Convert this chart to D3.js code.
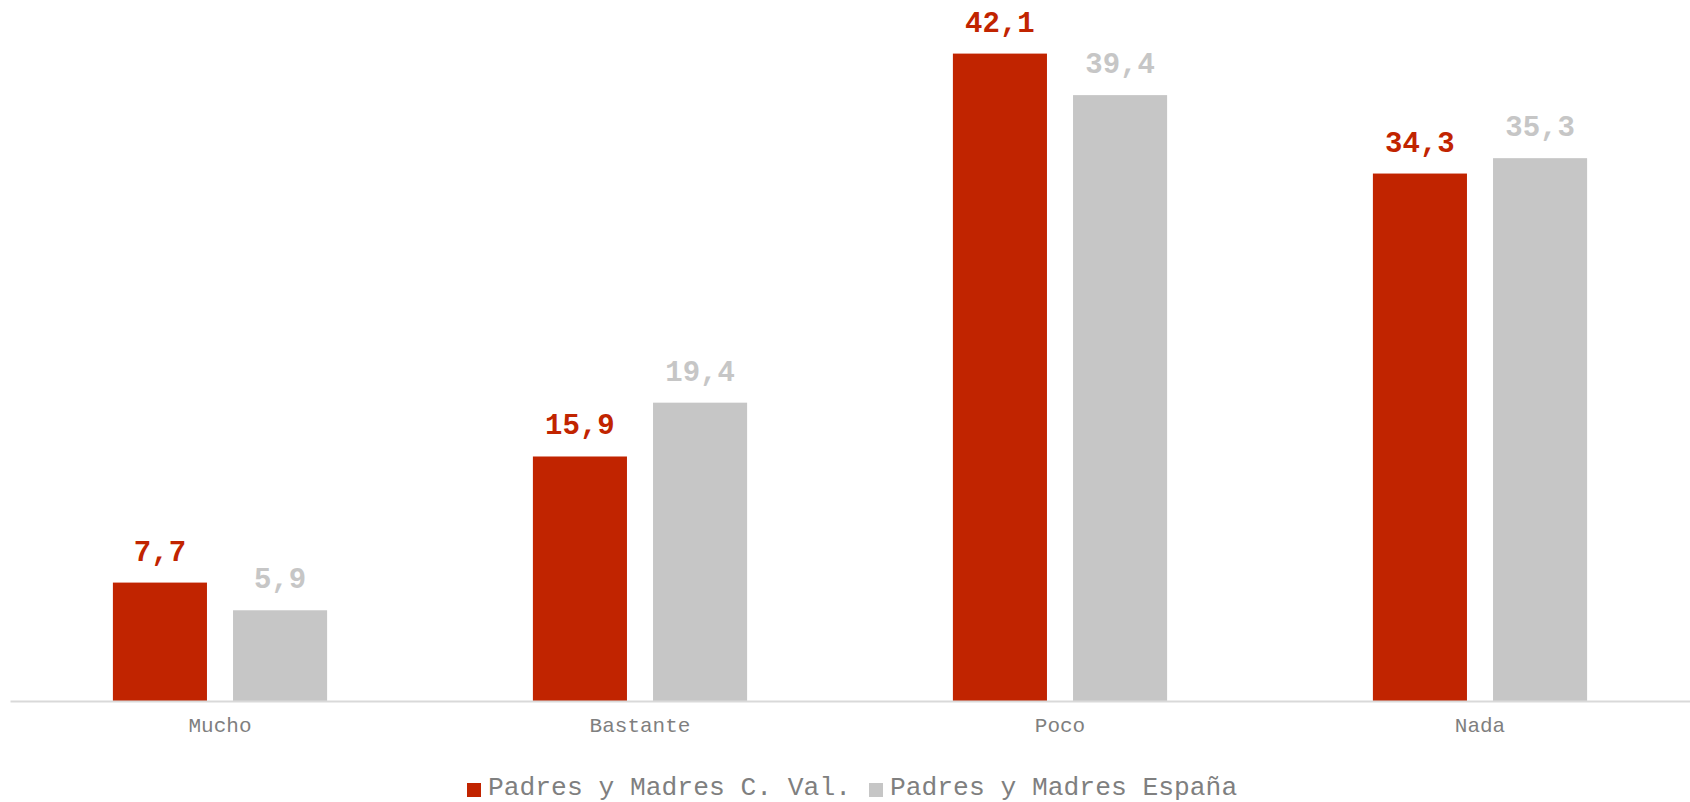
<!DOCTYPE html>
<html>
<head>
<meta charset="utf-8">
<script src="https://cdn.jsdelivr.net/npm/d3@7"></script>
<style>
  body { margin: 0; background: #fff; }
  svg { display: block; }
</style>
</head>
<body>
<div id="chart"></div>
<script>
var width = 1690;
var height = 802;

var categories = ["Mucho", "Bastante", "Poco", "Nada"];
var seriesNames = ["Padres y Madres C. Val.", "Padres y Madres España"];
var valenciaValues = [7.7, 15.9, 42.1, 34.3];
var espanaValues = [5.9, 19.4, 39.4, 35.3];
var colors = ["#c12400", "#c6c6c6"];

var fontFamily = "'Liberation Mono', 'Courier New', monospace";

var data = categories.map(function(c, i) {
    return { category: c, values: [valenciaValues[i], espanaValues[i]] };
});

var svg = d3.select("#chart")
    .append("svg")
    .attr("width", width)
    .attr("height", height);

var x0 = d3.scaleBand()
    .domain(categories)
    .range([10, 1690])
    .paddingInner(0.49)
    .paddingOuter(0.245);

var x1 = d3.scaleBand()
    .domain([0, 1])
    .range([0, x0.bandwidth()])
    .paddingInner(0.217);

var y = d3.scaleLinear()
    .domain([0, 45])
    .range([701, 9]);

var groups = svg.selectAll(".group")
    .data(data)
    .enter().append("g")
    .attr("class", "group")
    .attr("transform", function(d) { return "translate(" + x0(d.category) + ",0)"; });

groups.selectAll("rect")
    .data(function(d) { return d.values; })
    .enter().append("rect")
    .attr("x", function(d, i) { return x1(i); })
    .attr("y", function(d) { return y(d); })
    .attr("width", x1.bandwidth())
    .attr("height", function(d) { return y(0) - y(d); })
    .attr("fill", function(d, i) { return colors[i]; });

groups.selectAll(".value")
    .data(function(d) { return d.values; })
    .enter().append("text")
    .attr("class", "value")
    .attr("x", function(d, i) { return x1(i) + x1.bandwidth() / 2; })
    .attr("y", function(d) { return y(d) - 22; })
    .attr("text-anchor", "middle")
    .attr("font-family", fontFamily)
    .attr("font-weight", "bold")
    .attr("font-size", "29px")
    .attr("fill", function(d, i) { return colors[i]; })
    .text(function(d) { return d.toFixed(1).replace(".", ","); });

var xAxis = d3.axisBottom(x0).tickSize(0).tickPadding(16);

var axisG = svg.append("g")
    .attr("transform", "translate(0," + y(0) + ")")
    .call(xAxis);

axisG.select(".domain")
    .attr("stroke", "#d9d9d9")
    .attr("stroke-width", 2);

axisG.selectAll(".tick text")
    .attr("font-family", fontFamily)
    .attr("font-size", "21px")
    .attr("fill", "#7f7f7f");

// legend
var legendX = [467, 869];
var legend = svg.selectAll(".legend")
    .data(seriesNames)
    .enter().append("g")
    .attr("class", "legend")
    .attr("transform", function(d, i) { return "translate(" + legendX[i] + ",783)"; });

legend.append("rect")
    .attr("width", 14)
    .attr("height", 14)
    .attr("fill", function(d, i) { return colors[i]; });

legend.append("text")
    .attr("x", 21)
    .attr("y", 12)
    .attr("font-family", fontFamily)
    .attr("font-size", "26.3px")
    .attr("fill", "#7f7f7f")
    .text(function(d) { return d; });
</script>
</body>
</html>
